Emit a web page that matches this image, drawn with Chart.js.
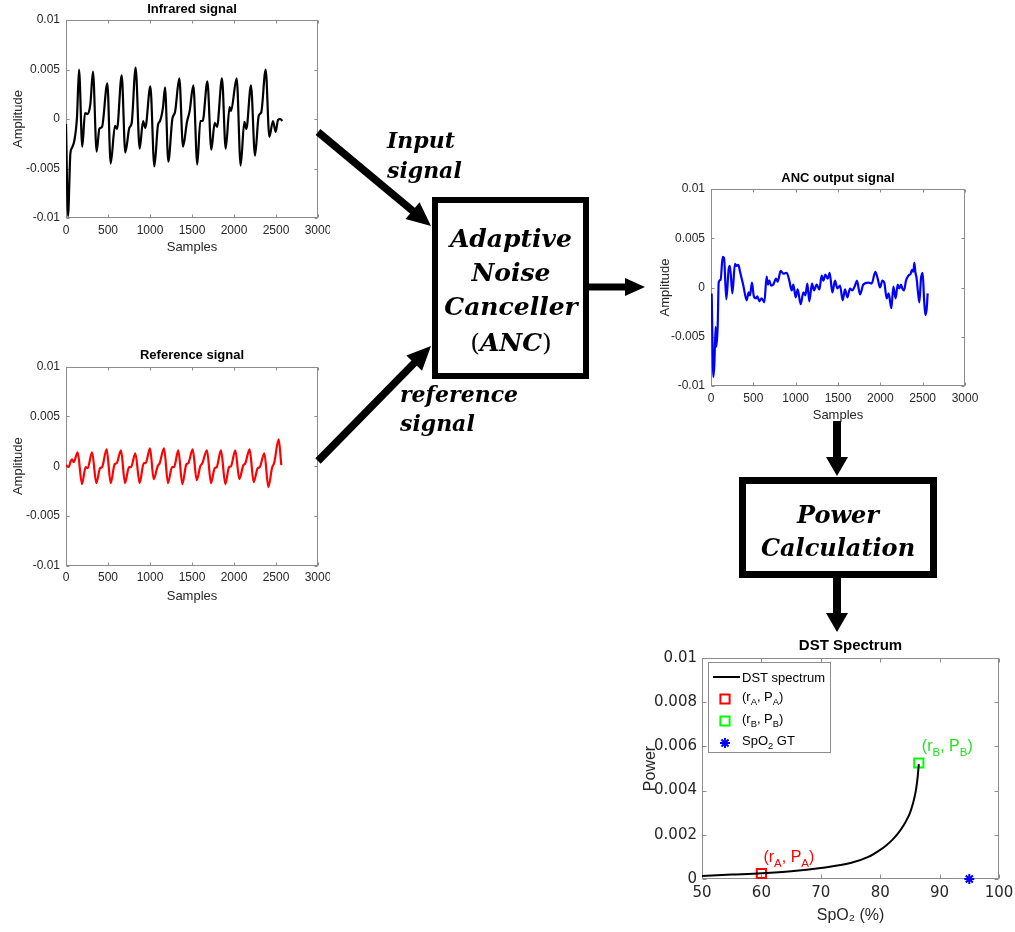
<!DOCTYPE html>
<html>
<head>
<meta charset="utf-8">
<title>ANC based SpO2 estimation</title>
<script src="https://cdn.jsdelivr.net/npm/chart.js@4.4.1/dist/chart.umd.min.js"></script>
<style>
  html, body { margin: 0; padding: 0; background: #fff; }
  #page { position: relative; width: 1015px; height: 932px; overflow: hidden; }
  canvas.plot { position: absolute; }
  svg.flow { position: absolute; left: 0; top: 0; }
  .blk {
    position: absolute; white-space: nowrap; line-height: 1; color: #000;
    font-family: "DejaVu Serif", "Liberation Serif", serif;
    font-weight: bold; font-style: italic;
  }
  .blk .up { font-style: normal; font-weight: normal; }
  .c { transform: translate(-50%, -50%); }
  .l { transform: translate(0, -50%); }
</style>
</head>
<body>
<div id="page">
  <canvas id="irChart"  class="plot" width="330" height="260" style="left:0;top:0"></canvas>
  <canvas id="refChart" class="plot" width="330" height="270" style="left:0;top:340px"></canvas>
  <canvas id="ancChart" class="plot" width="345" height="260" style="left:640px;top:165px"></canvas>
  <canvas id="dstChart" class="plot" width="375" height="302" style="left:640px;top:630px"></canvas>

  <svg class="flow" id="flow" width="1015" height="932"></svg>

  <div class="blk l" style="left:387px;top:140px;font-size:22px">Input</div>
  <div class="blk l" style="left:387px;top:170px;font-size:22px">signal</div>
  <div class="blk l" style="left:400px;top:394px;font-size:22px">reference</div>
  <div class="blk l" style="left:400px;top:423px;font-size:22px">signal</div>

  <div class="blk c" style="left:511px;top:238px;font-size:25px">Adaptive</div>
  <div class="blk c" style="left:511px;top:272px;font-size:25px">Noise</div>
  <div class="blk c" style="left:511px;top:306px;font-size:25px">Canceller</div>
  <div class="blk c" style="left:511px;top:342px;font-size:25px"><span class="up">(</span>ANC<span class="up">)</span></div>

  <div class="blk c" style="left:838px;top:515px;font-size:24px">Power</div>
  <div class="blk c" style="left:838px;top:548px;font-size:24px">Calculation</div>
</div>

<script>
// ---------- data ----------
const sampleTicks = [0, 500, 1000, 1500, 2000, 2500, 3000];
const amplitudeTicks = [-0.01, -0.005, 0, 0.005, 0.01];
const spo2Ticks = [50, 60, 70, 80, 90, 100];
const powerTicks = [0, 0.002, 0.004, 0.006, 0.008, 0.01];

// infrared PPG (input signal)
const irSamples = [
  0, 24, 52, 71, 99, 131, 155, 194, 226, 258,
  290, 321, 365, 397, 429, 492, 532, 583, 607, 663,
  706, 754, 782, 829, 877, 917, 944, 1004, 1052, 1095,
  1119, 1155, 1179, 1218, 1266, 1298, 1349, 1393, 1440, 1472,
  1516, 1563, 1599, 1627, 1683, 1730, 1770, 1798, 1857, 1901,
  1948, 1964, 2032, 2079, 2123, 2147, 2202, 2250, 2294, 2325,
  2377, 2421, 2464, 2496, 2524, 2552, 2575
];
const irAmplitude = [
  -0.0005, -0.0098, -0.0035, -0.0029, -0.0022, 0.0002, 0.0050, -0.0028, 0.0006, 0.0005,
  0.0015, 0.0048, -0.0033, -0.0010, -0.0008, 0.0036, -0.0045, -0.0007, -0.0010, 0.0044,
  -0.0034, -0.0009, -0.0004, 0.0052, -0.0030, -0.0002, -0.0009, 0.0033, -0.0048, -0.0006,
  -0.0002, 0.0012, 0.0032, -0.0043, 0.0000, 0.0007, 0.0041, -0.0028, -0.0003, 0.0008,
  0.0034, -0.0046, -0.0002, -0.0002, 0.0038, -0.0031, -0.0004, -0.0008, 0.0041, -0.0030,
  0.0012, 0.0008, 0.0041, -0.0047, -0.0003, -0.0010, 0.0034, -0.0037, 0.0003, 0.0007,
  0.0050, -0.0018, -0.0002, -0.0013, -0.0001, 0.0000, -0.0002
];

// reference signal
const refSamples = [
  0, 32, 52, 71, 91, 139, 190, 234, 258, 310,
  361, 405, 429, 484, 532, 579, 603, 655, 702, 750,
  774, 825, 877, 925, 948, 1000, 1044, 1091, 1115, 1167,
  1214, 1262, 1286, 1337, 1385, 1433, 1456, 1508, 1556, 1599,
  1623, 1678, 1726, 1770, 1794, 1845, 1897, 1940, 1964, 2016,
  2063, 2111, 2135, 2186, 2234, 2282, 2306, 2361, 2409, 2452,
  2480, 2532, 2563
];
const refAmplitude = [
  0.0001, -0.0001, 0.0004, 0.0007, 0.0004, 0.0014, -0.0018, -0.0001, -0.0002, 0.0014,
  -0.0017, -0.0002, -0.0001, 0.0017, -0.0017, 0.0002, 0.0003, 0.0016, -0.0017, -0.0001,
  -0.0001, 0.0013, -0.0017, 0.0003, 0.0003, 0.0018, -0.0013, 0.0000, 0.0003, 0.0018,
  -0.0017, -0.0001, -0.0001, 0.0016, -0.0018, 0.0002, 0.0003, 0.0017, -0.0014, 0.0000,
  0.0003, 0.0016, -0.0017, -0.0002, -0.0001, 0.0016, -0.0018, -0.0001, 0.0000, 0.0016,
  -0.0013, 0.0001, 0.0003, 0.0017, -0.0016, -0.0002, -0.0001, 0.0013, -0.0021, -0.0002,
  0.0004, 0.0027, 0.0001
];

// ANC output (error signal)
const ancSamples = [
  8, 28, 39, 55, 63, 79, 91, 114, 138, 154,
  181, 209, 224, 252, 283, 303, 323, 343, 382, 421,
  445, 461, 484, 504, 528, 547, 571, 598, 630, 657,
  673, 689, 709, 736, 768, 787, 823, 854, 894, 925,
  953, 972, 1000, 1024, 1059, 1091, 1114, 1138, 1161, 1193,
  1217, 1248, 1280, 1307, 1327, 1350, 1378, 1402, 1433, 1465,
  1492, 1524, 1555, 1583, 1610, 1642, 1669, 1701, 1724, 1760,
  1799, 1858, 1898, 1941, 1969, 1996, 2024, 2047, 2075, 2098,
  2130, 2154, 2181, 2205, 2224, 2244, 2260, 2280, 2303, 2331,
  2358, 2374, 2390, 2402, 2413, 2429, 2445, 2461, 2480, 2500,
  2516, 2532, 2547, 2559
];
const ancAmplitude = [
  -0.0006, -0.0091, -0.0079, -0.0040, -0.0060, -0.0039, 0.0005, 0.0008, 0.0031, 0.0030,
  -0.0012, 0.0019, 0.0022, -0.0006, 0.0024, 0.0022, 0.0023, 0.0016, 0.0002, -0.0013,
  -0.0005, -0.0008, 0.0005, -0.0008, -0.0011, -0.0009, -0.0014, -0.0011, -0.0015, 0.0011,
  0.0003, 0.0007, 0.0002, 0.0003, 0.0009, 0.0006, 0.0017, 0.0014, 0.0015, 0.0007,
  -0.0003, 0.0003, -0.0010, -0.0002, -0.0017, -0.0005, -0.0008, 0.0004, -0.0014, 0.0004,
  -0.0003, 0.0003, -0.0002, 0.0012, 0.0007, 0.0013, 0.0009, 0.0015, -0.0005, 0.0007,
  -0.0001, 0.0002, -0.0013, -0.0002, -0.0010, -0.0001, -0.0003, 0.0002, 0.0007, -0.0007,
  0.0003, 0.0005, 0.0004, 0.0016, 0.0009, 0.0000, 0.0007, 0.0005, -0.0011, -0.0006,
  -0.0021, 0.0001, -0.0011, 0.0003, -0.0001, 0.0003, -0.0001, -0.0003, 0.0007, 0.0012,
  0.0014, 0.0018, 0.0016, 0.0025, 0.0016, 0.0009, -0.0005, -0.0015, 0.0009, 0.0015,
  -0.0011, -0.0028, -0.0022, -0.0006
];

// DST spectrum: power against candidate SpO2
const dstSpo2  = [50, 55, 60, 65, 70, 75, 78, 80, 81, 82, 83, 84, 84.5, 85, 85.5, 86, 86.3, 86.5];
const dstPower = [0.00014, 0.0002, 0.00026, 0.00035, 0.0005, 0.00072, 0.001, 0.00132, 0.00152, 0.00176, 0.00206, 0.00245, 0.0027, 0.00298, 0.0034, 0.004, 0.0046, 0.0052];
const pointA = { spo2: 60, power: 0.00025 };
const pointB = { spo2: 86.5, power: 0.00525 };
const spo2GroundTruth = { spo2: 95, power: 0 };

// ---------- shared drawing helpers ----------
const SANS = '"Liberation Sans", Arial, Helvetica, sans-serif';
const WIDE = '"DejaVu Sans", "Liberation Sans", Arial, sans-serif';
Chart.defaults.font.family = SANS;
Chart.defaults.color = '#262626';

const toXY = (xs, ys) => xs.map((x, i) => ({ x, y: ys[i] }));

// MATLAB style box with inward ticks on all four sides
const framePlugin = {
  id: 'frame',
  beforeDatasetsDraw(chart, args, opts) {
    const { ctx, chartArea: a, scales: { x, y } } = chart;
    const L = opts.tick || 3;
    ctx.save();
    ctx.strokeStyle = opts.color || '#8c8c8c';
    ctx.lineWidth = 1;
    const l = Math.round(a.left) + 0.5, r = Math.round(a.right) - 0.5;
    const t = Math.round(a.top) + 0.5, b = Math.round(a.bottom) - 0.5;
    ctx.strokeRect(l, t, r - l, b - t);
    ctx.beginPath();
    x.ticks.forEach(tk => {
      const px = Math.round(x.getPixelForValue(tk.value)) + 0.5;
      ctx.moveTo(px, b); ctx.lineTo(px, b - L);
      ctx.moveTo(px, t); ctx.lineTo(px, t + L);
    });
    y.ticks.forEach(tk => {
      const py = Math.round(y.getPixelForValue(tk.value)) + 0.5;
      ctx.moveTo(l, py); ctx.lineTo(l + L, py);
      ctx.moveTo(r, py); ctx.lineTo(r - L, py);
    });
    ctx.stroke();
    ctx.restore();
  }
};
Chart.register(framePlugin);

function fixedTicks(values) {
  return scale => { scale.ticks = values.map(v => ({ value: v })); };
}

// text with subscripts: parts = [[text, isSub], ...], y is the baseline
function drawRich(ctx, parts, x, y, size, color) {
  let cx = x;
  ctx.save();
  ctx.fillStyle = color;
  ctx.textBaseline = 'alphabetic';
  ctx.textAlign = 'left';
  parts.forEach(([t, sub]) => {
    ctx.font = (sub ? size * 0.72 : size) + 'px ' + SANS;
    ctx.fillText(t, cx, y + (sub ? size * 0.3 : 0));
    cx += ctx.measureText(t).width;
  });
  ctx.restore();
}

function signalChart(id, title, xs, ys, color, g) {
  return new Chart(document.getElementById(id), {
    type: 'line',
    data: {
      datasets: [{
        data: toXY(xs, ys),
        borderColor: color,
        borderWidth: 2.2,
        pointRadius: 0,
        cubicInterpolationMode: 'monotone',
        fill: false
      }]
    },
    options: {
      responsive: false,
      animation: false,
      devicePixelRatio: 1,
      events: [],
      layout: { padding: { left: 0, right: g.padRight, top: 0, bottom: 0 } },
      plugins: {
        legend: { display: false },
        tooltip: { enabled: false },
        title: {
          display: true, text: title, fullSize: false, color: '#000',
          font: { size: 13, weight: 'bold' },
          padding: { top: g.titleTop, bottom: g.titleBottom }
        },
        frame: { tick: 3 }
      },
      scales: {
        x: {
          type: 'linear', min: 0, max: 3000,
          afterBuildTicks: fixedTicks(sampleTicks),
          afterFit: s => { s.height = g.xh; s.paddingLeft = 0; s.paddingRight = 0; },
          grid: { display: false, drawTicks: false },
          border: { display: false },
          ticks: { padding: 5, font: { size: 12 }, maxRotation: 0, autoSkip: false, callback: v => String(v) },
          title: { display: true, text: 'Samples', font: { size: 13 }, color: '#262626', padding: { top: 0, bottom: g.xTitlePad } }
        },
        y: {
          type: 'linear', min: -0.01, max: 0.01,
          afterBuildTicks: fixedTicks(amplitudeTicks),
          afterFit: s => { s.width = g.yw; s.paddingTop = 0; s.paddingBottom = 0; },
          grid: { display: false, drawTicks: false },
          border: { display: false },
          ticks: { padding: 6, font: { size: 12 }, autoSkip: false, callback: v => String(v) },
          title: { display: true, text: 'Amplitude', font: { size: 13 }, color: '#262626', padding: { top: g.yTitlePad, bottom: 0 } }
        }
      }
    }
  });
}

signalChart('irChart', 'Infrared signal', irSamples, irAmplitude, '#000000',
  { padRight: 12, xh: 42, yw: 66, titleTop: 1.2, titleBottom: 3.2, xTitlePad: 5.2, yTitlePad: 10.7 });
signalChart('refChart', 'Reference signal', refSamples, refAmplitude, '#ff0000',
  { padRight: 12, xh: 44.3, yw: 66, titleTop: 7.9, titleBottom: 3.2, xTitlePad: 6.2, yTitlePad: 10.7 });
signalChart('ancChart', 'ANC output signal', ancSamples, ancAmplitude, '#0000ff',
  { padRight: 20, xh: 39, yw: 71, titleTop: 5.2, titleBottom: 3.2, xTitlePad: 2.2, yTitlePad: 17.2 });

// ---------- DST spectrum ----------
const labelA = [['(r', 0], ['A', 1], [', P', 0], ['A', 1], [')', 0]];
const labelB = [['(r', 0], ['B', 1], [', P', 0], ['B', 1], [')', 0]];
const labelGT = [['SpO', 0], ['2', 1], [' GT', 0]];
const GREEN = '#00ff00', GREEN_TEXT = '#22e022';

const dstDecor = {
  id: 'dstDecor',
  afterDatasetsDraw(chart) {
    const { ctx, chartArea: a, scales: { x, y } } = chart;
    // point annotations
    drawRich(ctx, labelA, x.getPixelForValue(pointA.spo2) + 2, y.getPixelForValue(pointA.power) - 11, 16, '#ff0000');
    drawRich(ctx, labelB, x.getPixelForValue(pointB.spo2) + 3, y.getPixelForValue(pointB.power) - 12, 16, GREEN_TEXT);

    // legend
    const lx = a.left + 6, ly = a.top + 4, lw = 122, lh = 90;
    ctx.save();
    ctx.fillStyle = '#fff';
    ctx.fillRect(lx, ly, lw, lh);
    ctx.strokeStyle = '#8c8c8c';
    ctx.lineWidth = 1;
    ctx.strokeRect(Math.round(lx) + 0.5, Math.round(ly) + 0.5, lw, lh);
    const rows = [ly + 15, ly + 37, ly + 59, ly + 81];
    const tx = lx + 34, mx = lx + 17;
    ctx.strokeStyle = '#000'; ctx.lineWidth = 2;
    ctx.beginPath(); ctx.moveTo(lx + 5, rows[0]); ctx.lineTo(lx + 32, rows[0]); ctx.stroke();
    const mark = (style, color, r, yy) => {
      ctx.strokeStyle = color; ctx.fillStyle = 'rgba(0,0,0,0)'; ctx.lineWidth = 2;
      Chart.helpers.drawPoint(ctx, { pointStyle: style, radius: r, borderWidth: 2, rotation: 0 }, mx, yy);
    };
    mark('rect', '#ff0000', 6.5, rows[1]);
    mark('rect', GREEN, 6.5, rows[2]);
    mark('star', '#0000ff', 5, rows[3]);
    ctx.restore();
    drawRich(ctx, [['DST spectrum', 0]], tx, rows[0] + 4.5, 13, '#000');
    drawRich(ctx, labelA, tx, rows[1] + 2, 13, '#000');
    drawRich(ctx, labelB, tx, rows[2] + 2, 13, '#000');
    drawRich(ctx, labelGT, tx, rows[3] + 2, 13, '#000');
  }
};

new Chart(document.getElementById('dstChart'), {
  type: 'line',
  data: {
    datasets: [
      { data: toXY(dstSpo2, dstPower), borderColor: '#000', borderWidth: 2, pointRadius: 0, cubicInterpolationMode: 'monotone', fill: false },
      { data: [{ x: pointA.spo2, y: pointA.power }], showLine: false, pointStyle: 'rect', pointRadius: 6.5, pointBorderWidth: 2, borderColor: '#ff0000', backgroundColor: 'rgba(0,0,0,0)' },
      { data: [{ x: pointB.spo2, y: pointB.power }], showLine: false, pointStyle: 'rect', pointRadius: 6.5, pointBorderWidth: 2, borderColor: GREEN, backgroundColor: 'rgba(0,0,0,0)' },
      { data: [{ x: spo2GroundTruth.spo2, y: spo2GroundTruth.power }], showLine: false, pointStyle: 'star', pointRadius: 5, pointBorderWidth: 2, borderColor: '#0000ff', backgroundColor: '#0000ff' }
    ]
  },
  plugins: [dstDecor],
  options: {
    responsive: false,
    animation: false,
    devicePixelRatio: 1,
    events: [],
    clip: false,
    layout: { padding: { left: 0, right: 16, top: 0, bottom: 0 } },
    plugins: {
      legend: { display: false },
      tooltip: { enabled: false },
      title: {
        display: true, text: 'DST Spectrum', fullSize: false, color: '#000',
        font: { size: 15, weight: 'bold' },
        padding: { top: 7, bottom: 3 }
      },
      frame: { tick: 4 }
    },
    scales: {
      x: {
        type: 'linear', min: 50, max: 100,
        afterBuildTicks: fixedTicks(spo2Ticks),
        afterFit: s => { s.height = 53; s.paddingLeft = 0; s.paddingRight = 0; },
        grid: { display: false, drawTicks: false },
        border: { display: false },
        ticks: { padding: 5, font: { size: 15, family: WIDE }, maxRotation: 0, autoSkip: false, callback: v => String(v) },
        title: { display: true, text: 'SpO\u2082 (%)', font: { size: 16 }, color: '#262626', padding: { top: 0, bottom: 7 } }
      },
      y: {
        type: 'linear', min: 0, max: 0.01,
        afterBuildTicks: fixedTicks(powerTicks),
        afterFit: s => { s.width = 62; s.paddingTop = 0; s.paddingBottom = 0; },
        grid: { display: false, drawTicks: false },
        border: { display: false },
        ticks: { padding: 5, font: { size: 15, family: WIDE }, autoSkip: false, callback: v => String(v) },
        title: { display: true, text: 'Power', font: { size: 16 }, color: '#262626', padding: { top: 1.4, bottom: 0 } }
      }
    }
  }
});

// ---------- block diagram arrows ----------
const svg = document.getElementById('flow');
const NS = 'http://www.w3.org/2000/svg';
function el(name, attrs) {
  const e = document.createElementNS(NS, name);
  Object.entries(attrs).forEach(([k, v]) => e.setAttribute(k, v));
  svg.appendChild(e);
  return e;
}
function arrow(x1, y1, x2, y2, shaft, headL, headW) {
  const len = Math.hypot(x2 - x1, y2 - y1);
  const ux = (x2 - x1) / len, uy = (y2 - y1) / len;
  const nx = -uy, ny = ux;
  const bx = x2 - ux * headL, by = y2 - uy * headL;
  el('line', { x1, y1, x2: bx + ux, y2: by + uy, stroke: '#000', 'stroke-width': shaft });
  el('polygon', {
    points: [[x2, y2], [bx + nx * headW / 2, by + ny * headW / 2], [bx - nx * headW / 2, by - ny * headW / 2]]
      .map(p => p.join(',')).join(' '),
    fill: '#000'
  });
}
// processing blocks
el('rect', { x: 435, y: 200, width: 151, height: 176, fill: 'none', stroke: '#000', 'stroke-width': 6 });
el('rect', { x: 742.5, y: 480.5, width: 191, height: 94, fill: 'none', stroke: '#000', 'stroke-width': 7 });
// connections
arrow(318, 132, 431, 226, 7.5, 24, 22);
arrow(318, 461, 431, 346, 7.5, 24, 22);
arrow(589, 287, 645, 287, 7, 20, 18);
arrow(837, 421, 837, 476, 8, 19, 22);
arrow(837, 578, 837, 632, 8, 19, 22);
</script>
</body>
</html>
